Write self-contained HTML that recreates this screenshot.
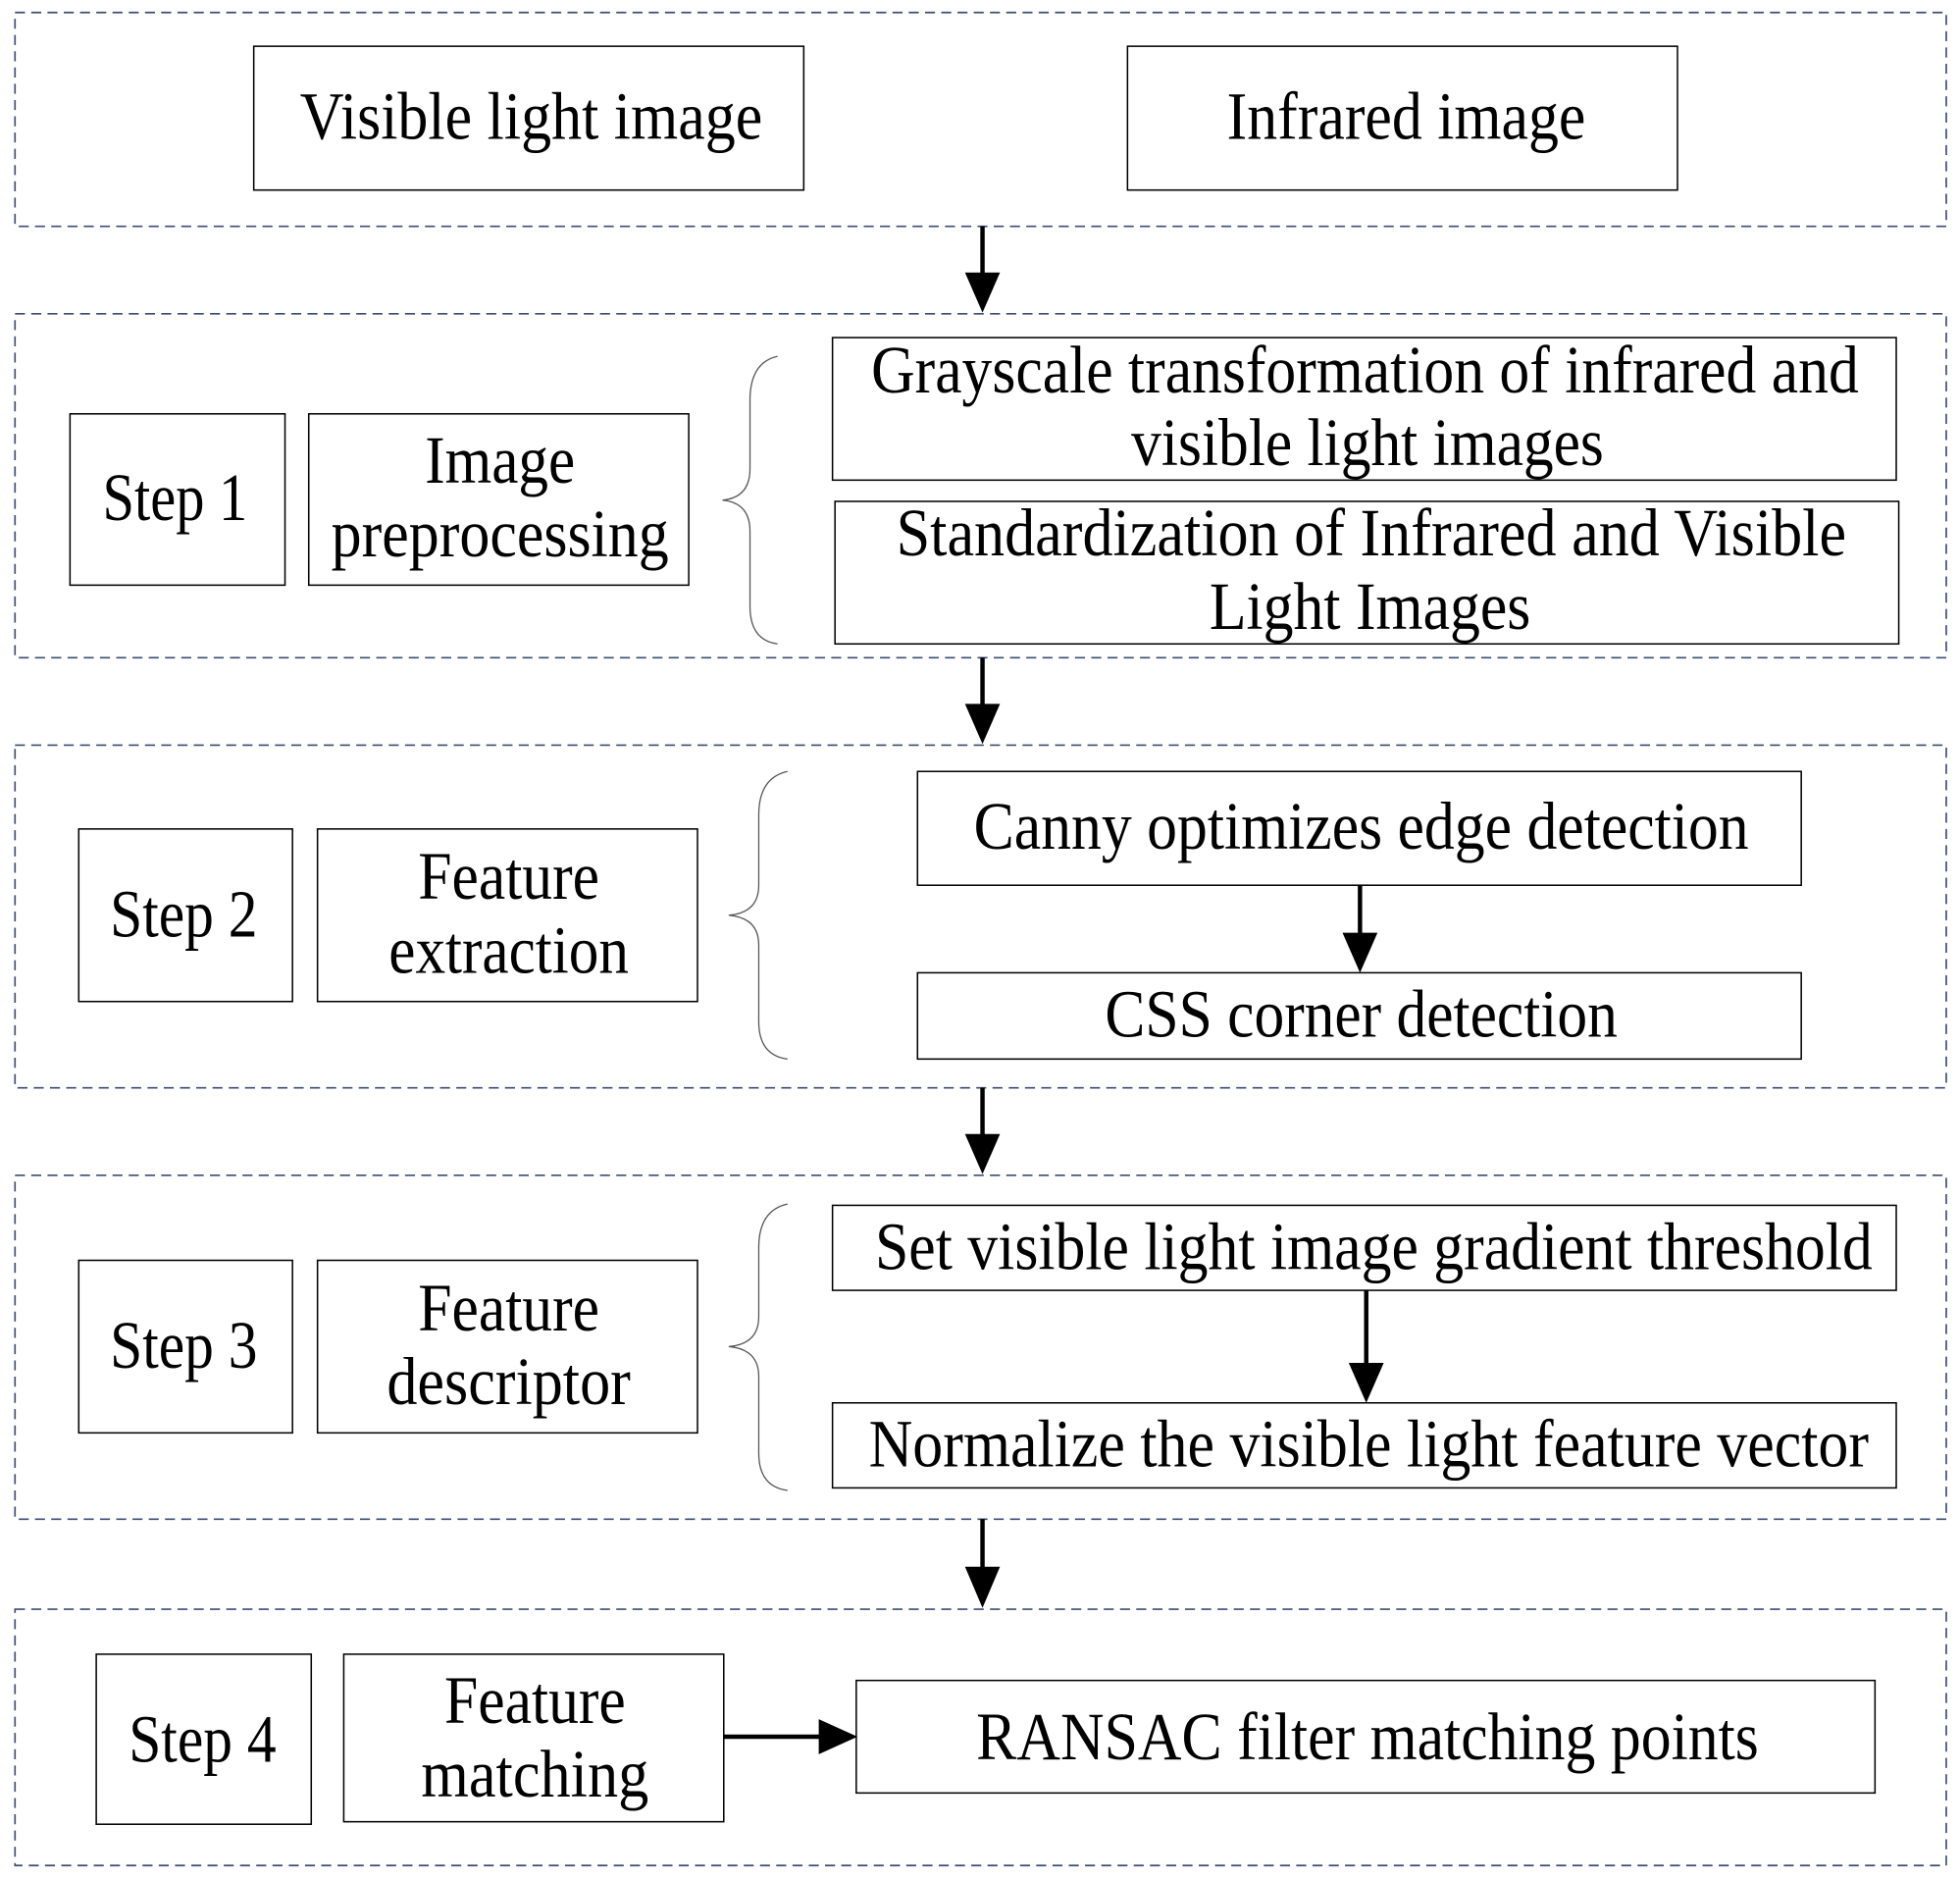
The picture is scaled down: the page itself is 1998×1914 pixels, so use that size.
<!DOCTYPE html>
<html><head><meta charset="utf-8"><style>
html,body{margin:0;padding:0;background:#fff;}
svg{display:block;}
text{font-family:"Liberation Serif","Times New Roman",serif;font-size:54px;fill:#000;text-anchor:middle;}
</style></head><body>
<svg width="1998" height="1914" viewBox="0 0 1568 1502" preserveAspectRatio="none" xmlns="http://www.w3.org/2000/svg">
<g fill="none" stroke="#3b4e72" stroke-width="1.3" stroke-dasharray="8,5">
<rect x="12" y="10" width="1545" height="171"/>
<rect x="12" y="251" width="1545" height="275"/>
<rect x="12" y="596" width="1545" height="274"/>
<rect x="12" y="940" width="1545" height="275"/>
<rect x="12" y="1287" width="1545" height="205"/>
</g>
<g fill="none" stroke="#000" stroke-width="1.2">
<rect x="203" y="37" width="440" height="115"/>
<rect x="902" y="37" width="440" height="115"/>
<rect x="56" y="331" width="172" height="137"/>
<rect x="247" y="331" width="304" height="137"/>
<rect x="666" y="270" width="851" height="114"/>
<rect x="668" y="401" width="851" height="114"/>
<rect x="63" y="663" width="171" height="138"/>
<rect x="254" y="663" width="304" height="138"/>
<rect x="734" y="617" width="707" height="91"/>
<rect x="734" y="778" width="707" height="69"/>
<rect x="63" y="1008" width="171" height="138"/>
<rect x="254" y="1008" width="304" height="138"/>
<rect x="666" y="964" width="851" height="68"/>
<rect x="666" y="1122" width="851" height="68"/>
<rect x="77" y="1323" width="172" height="136"/>
<rect x="275" y="1323" width="304" height="134"/>
<rect x="685" y="1344" width="815" height="90"/>
</g>
<g fill="none" stroke="#555" stroke-width="1">
<path d="M622,285 Q600,290 600,320 L600,375 Q600,398 578,400 Q600,402 600,425 L600,485 Q600,512 622,515"/>
<path d="M630,617 Q607,622 607,652 L607,708 Q607,730 583,732 Q607,734 607,756 L607,817 Q607,844 630,847"/>
<path d="M630,963 Q607,968 607,998 L607,1053 Q607,1075 583,1077 Q607,1079 607,1101 L607,1162 Q607,1189 630,1192"/>
</g>
<g stroke="#000" stroke-width="3.5">
<line x1="786" y1="181" x2="786" y2="220"/>
<line x1="786" y1="526" x2="786" y2="565"/>
<line x1="786" y1="870" x2="786" y2="909"/>
<line x1="786" y1="1215" x2="786" y2="1255"/>
<line x1="1088" y1="708" x2="1088" y2="748"/>
<line x1="1093" y1="1032" x2="1093" y2="1092"/>
<line x1="579" y1="1389" x2="657" y2="1389"/>
</g>
<g fill="#000">
<polygon points="772,218 800,218 786,250"/>
<polygon points="772,563 800,563 786,595"/>
<polygon points="772,907 800,907 786,939"/>
<polygon points="772,1253 800,1253 786,1286"/>
<polygon points="1074,746 1102,746 1088,778"/>
<polygon points="1079,1090 1107,1090 1093,1122"/>
<polygon points="655,1375 655,1403 686,1389"/>
</g>
<g lengthAdjust="spacingAndGlyphs">
<text lengthAdjust="spacingAndGlyphs" x="425" y="111" textLength="370">Visible light image</text>
<text lengthAdjust="spacingAndGlyphs" x="1125" y="111" textLength="287">Infrared image</text>
<text lengthAdjust="spacingAndGlyphs" x="140" y="416" textLength="116">Step 1</text>
<text lengthAdjust="spacingAndGlyphs" x="400" y="386" textLength="120">Image</text>
<text lengthAdjust="spacingAndGlyphs" x="400" y="445" textLength="270">preprocessing</text>
<text lengthAdjust="spacingAndGlyphs" x="1092" y="314" textLength="790">Grayscale transformation of infrared and</text>
<text lengthAdjust="spacingAndGlyphs" x="1094" y="372" textLength="378">visible light images</text>
<text lengthAdjust="spacingAndGlyphs" x="1097" y="444" textLength="760">Standardization of Infrared and Visible</text>
<text lengthAdjust="spacingAndGlyphs" x="1096" y="503" textLength="257">Light Images</text>
<text lengthAdjust="spacingAndGlyphs" x="147" y="749" textLength="118">Step 2</text>
<text lengthAdjust="spacingAndGlyphs" x="407" y="719" textLength="145">Feature</text>
<text lengthAdjust="spacingAndGlyphs" x="407" y="778" textLength="192">extraction</text>
<text lengthAdjust="spacingAndGlyphs" x="1089" y="679" textLength="620">Canny optimizes edge detection</text>
<text lengthAdjust="spacingAndGlyphs" x="1089" y="829" textLength="410">CSS corner detection</text>
<text lengthAdjust="spacingAndGlyphs" x="147" y="1094" textLength="118">Step 3</text>
<text lengthAdjust="spacingAndGlyphs" x="407" y="1064" textLength="145">Feature</text>
<text lengthAdjust="spacingAndGlyphs" x="407" y="1123" textLength="195">descriptor</text>
<text lengthAdjust="spacingAndGlyphs" x="1099" y="1015" textLength="798">Set visible light image gradient threshold</text>
<text lengthAdjust="spacingAndGlyphs" x="1095" y="1173" textLength="800">Normalize the visible light feature vector</text>
<text lengthAdjust="spacingAndGlyphs" x="162" y="1409" textLength="118">Step 4</text>
<text lengthAdjust="spacingAndGlyphs" x="428" y="1378" textLength="145">Feature</text>
<text lengthAdjust="spacingAndGlyphs" x="428" y="1437" textLength="182">matching</text>
<text lengthAdjust="spacingAndGlyphs" x="1094" y="1407" textLength="626">RANSAC filter matching points</text>
</g>
</svg>
</body></html>
